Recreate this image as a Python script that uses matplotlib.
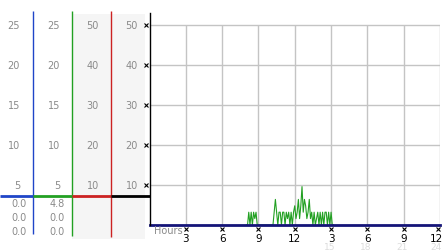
from matplotlib import pyplot as plt
from matplotlib import transforms
import numpy as np

# wind speed, 6 minute samples from 8.0h to 15.2h (mph), gust flat at zero
wind_hours = np.round(np.arange(8.0, 15.25, 0.1), 1)
wind_speed = [0, 0, 1.6, 0, 1.6, 0, 1.6, 0.8, 1.6, 0,
              0, 0, 0, 0, 0, 0, 0, 0, 0, 0,
              0, 0, 0, 1.6, 3.2, 1.6, 0, 1.6, 1.6, 0,
              1.6, 1.6, 0, 1.6, 0.8, 1.6, 0, 1.6, 0, 1.6,
              2.4, 0.8, 1.6, 3.2, 0.8, 2.4, 4.8, 1.6, 3.2, 2.4,
              0.8, 1.6, 3.2, 0.8, 1.6, 0, 1.6, 0, 0.8, 1.6,
              0, 1.6, 0, 1.6, 0, 1.6, 1.6, 0, 1.6, 0,
              1.6, 0, 0]
gust_hours = [0, 24]
gust_speed = [0.0, 0.0]

scale_25 = [5, 10, 15, 20, 25]
scale_50 = [10, 20, 30, 40, 50]
gust_now = ['0.0', '0.0', '0.0']
wind_now = ['4.8', '0.0', '0.0']
tick_hours = [3, 6, 9, 12, 15, 18, 21, 24]
tick_labels = ['3', '6', '9', '12', '3', '6', '9', '12']
pm_labels = ['15', '18', '21', '24']

blue = '#1f45c8'
green = '#22a022'
red = '#cc2222'
navy = '#141478'
gray = '#8a8a8a'
fs = 7

W, H = 442, 253
fig = plt.figure(figsize=(W / 100, H / 100), dpi=100)

# background axes in pixel coords (origin top-left)
bg = fig.add_axes([0, 0, 1, 1], zorder=0)
bg.set_xlim(0, W)
bg.set_ylim(H, 0)
bg.axis('off')
bg.add_patch(plt.Rectangle((72, 15), 73, 225, color='#f5f5f5', lw=0))
bg.vlines(33, 12, 235, color=blue, lw=1)
bg.vlines(72, 12, 237, color=green, lw=1)
bg.vlines(111, 12, 238, color=red, lw=1)
bg.hlines(197, 0, 33, color=blue, lw=2)
bg.hlines(197, 33, 72, color=green, lw=2)
bg.hlines(197, 72, 111, color=red, lw=2)
bg.hlines(197, 111, 150, color='black', lw=2)

# main chart
y0, y1 = 226, 14
ax = fig.add_axes([149.5 / W, (H - y0) / H, 290.5 / W, (y0 - y1) / H], zorder=1)
ax.set_xlim(0, 24)
ax.set_ylim(0, 25 * (y0 - y1) / 200)
ax.set_facecolor('white')
for s in ['top', 'right', 'bottom']:
    ax.spines[s].set_visible(False)
ax.spines['left'].set_color('black')
ax.spines['left'].set_linewidth(1)
ax.set_xticks([])
ax.set_yticks([])
ax.hlines(scale_25, 0, 24, color='#c4c4c4', lw=1)
ax.vlines(tick_hours, 0, 25, color='#c4c4c4', lw=1)

ax.plot(wind_hours, wind_speed, color=green, lw=0.8)
ax.plot(gust_hours, gust_speed, color=navy, lw=2, clip_on=False)

# left scale labels: x in pixels, y in chart data
lt = transforms.blended_transform_factory(bg.transData, ax.transData)
for v in scale_25:
    fig.text(20, v, str(v), transform=lt, ha='right', va='center', fontsize=fs, color=gray)
    fig.text(60, v, str(v), transform=lt, ha='right', va='center', fontsize=fs, color=gray)
for v in scale_50:
    fig.text(99, v / 2, str(v), transform=lt, ha='right', va='center', fontsize=fs, color=gray)
    fig.text(138, v / 2, str(v), transform=lt, ha='right', va='center', fontsize=fs, color=gray)
ax.plot([-0.3] * len(scale_25), scale_25, ls='none', marker='x', ms=2.5, mew=0.8,
        color='black', clip_on=False)

for i, (g, w) in enumerate(zip(gust_now, wind_now)):
    y = 204 + i * 14
    bg.text(27, y, g, ha='right', va='center', fontsize=fs, color=gray)
    bg.text(65, y, w, ha='right', va='center', fontsize=fs, color=gray)

# x axis labels: x in hours, y in pixels
bt = transforms.blended_transform_factory(ax.transData, bg.transData)
fig.text(0.35, 231, 'Hours', transform=bt, ha='left', va='center', fontsize=fs, color=gray)
for h, lab in zip(tick_hours, tick_labels):
    xh = min(h, 23.7)
    fig.text(xh, 239, lab, transform=bt, ha='center', va='center', fontsize=fs + 0.5,
             color='black')
ax.plot([min(h, 23.8) for h in tick_hours], [-0.5] * len(tick_hours), ls='none',
        marker='x', ms=2.5, mew=0.8, color='black', clip_on=False)
for h, lab in zip(tick_hours[4:], pm_labels):
    fig.text(min(h - 0.15, 23.7), 248, lab, transform=bt, ha='center', va='center',
             fontsize=fs - 0.5, color='#dcdcdc')

# legend
bg.plot([160, 302], [20, 20], ls='none', marker='o', ms=4.5, mfc='#c01818',
        mec='#400000', mew=0.8)
bg.text(165, 20, 'Gust 06/25/06', ha='left', va='center', fontsize=fs, color=navy)
bg.text(307, 20, 'Wind 06/25/06', ha='left', va='center', fontsize=fs, color=green)

fig.savefig('out.png', dpi=100)
